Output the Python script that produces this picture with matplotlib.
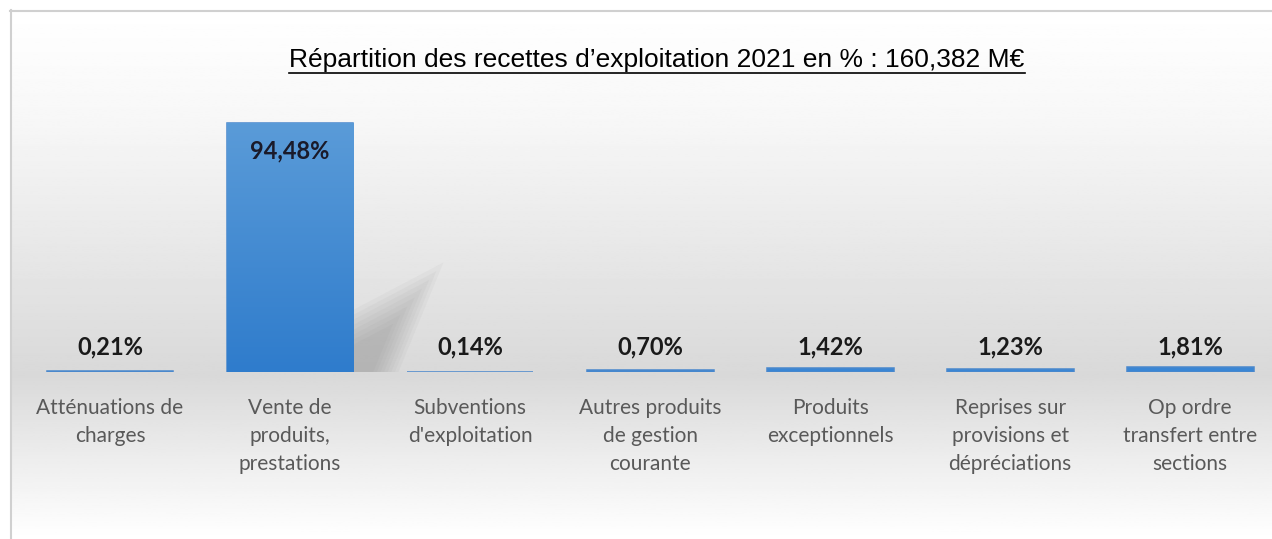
import numpy as np
import matplotlib.pyplot as plt
from matplotlib.colors import LinearSegmentedColormap
from matplotlib.patches import Polygon

categories = ["Atténuations de\ncharges", "Vente de\nproduits,\nprestations",
              "Subventions\nd'exploitation", "Autres produits\nde gestion\ncourante",
              "Produits\nexceptionnels", "Reprises sur\nprovisions et\ndépréciations",
              "Op ordre\ntransfert entre\nsections"]
values = [0.21, 94.48, 0.14, 0.70, 1.42, 1.23, 1.81]
labels = ["0,21%", "94,48%", "0,14%", "0,70%", "1,42%", "1,23%", "1,81%"]
title = "Répartition des recettes d\u2019exploitation 2021 en % : 160,382 M€"

W, H = 1272, 539
fig = plt.figure(figsize=(W / 100, H / 100), dpi=100)

# background: white frame, gradient chart area
bg = fig.add_axes([0, 0, 1, 1])
bg.set_xlim(0, W)
bg.set_ylim(H, 0)
bg.axis('off')
ys = np.linspace(0, 1, 300)
stops_y = [0.0, 0.2, 0.69, 0.85, 1.0]
stops_v = [1.0, 0.97, 0.85, 0.93, 1.0]
col = np.interp(ys, stops_y, stops_v)
grad = np.repeat(col[:, None], 2, axis=1)
bg.imshow(grad, cmap='gray', vmin=0, vmax=1, extent=[11, W, H, 11], aspect='auto')
bg.plot([10, W], [10.5, 10.5], color='#d0d0d0', lw=1.5)
bg.plot([10.5, 10.5], [10, H], color='#d0d0d0', lw=1.5)

ax = fig.add_axes([20 / W, (H - 372) / H, (W - 20) / W, 263.5 / H])
ax.patch.set_alpha(0)
x = np.arange(len(values))
bars = ax.bar(x, values, width=0.705, color='#3a86d4', edgecolor='#4a88cc', linewidth=1.1, zorder=2)
ax.set_xlim(-0.5, 6.455)
ax.set_ylim(0, 100)
for s in ax.spines.values():
    s.set_visible(False)
ax.set_yticks([])
ax.set_xticks(x)
ax.set_xticklabels(categories, fontsize=15, color='#595959', family='Lato',
                   linespacing=1.5, va='top')
ax.tick_params(axis='x', length=0, pad=19)

# gradient fill and soft shadow on the tall bar
cmap = LinearSegmentedColormap.from_list('b', ['#2f7ccc', '#5a9bd8'])
for b, v in zip(bars, values):
    if v > 10:
        g = np.linspace(0, 1, 100)[:, None]
        im = ax.imshow(g, cmap=cmap, origin='lower', aspect='auto', zorder=2.5,
                       extent=[b.get_x(), b.get_x() + b.get_width(), 0, v])
        im.set_clip_path(b)
        x0 = b.get_x() + b.get_width()
        for k in range(8):
            s = 1 - k * 0.08
            poly = Polygon([(x0, 0), (x0, v * 0.25 * s), (x0 + 0.5 * s, v * 0.44 * s),
                            (x0 + 0.25 * s, 0)], closed=True,
                           facecolor='#808080', edgecolor='none', alpha=0.06, zorder=1)
            ax.add_patch(poly)

for xi, v, lab in zip(x, values, labels):
    if v > 10:
        ax.annotate(lab, (xi, v), xytext=(0, -20), textcoords='offset points',
                    ha='center', va='center', fontsize=17, fontweight='bold',
                    color='#1a1a2a', family='Lato', zorder=3)
    else:
        ax.annotate(lab, (xi, 0), xytext=(0, 18), textcoords='offset points',
                    ha='center', va='center', fontsize=17, fontweight='bold',
                    color='#1a1a1a', family='Lato', zorder=3)

fig.text(657 / W, 1 - 60 / H, title, ha='center', va='center', fontsize=19,
         family='Liberation Sans', color='black')
# underline for title
t = fig.texts[-1]
fig.canvas.draw()
bb = t.get_window_extent()
bg.plot([bb.x0, bb.x1], [H - bb.y0 + 1, H - bb.y0 + 1], color='black', lw=1.2)

fig.savefig('out.png', dpi=100)
